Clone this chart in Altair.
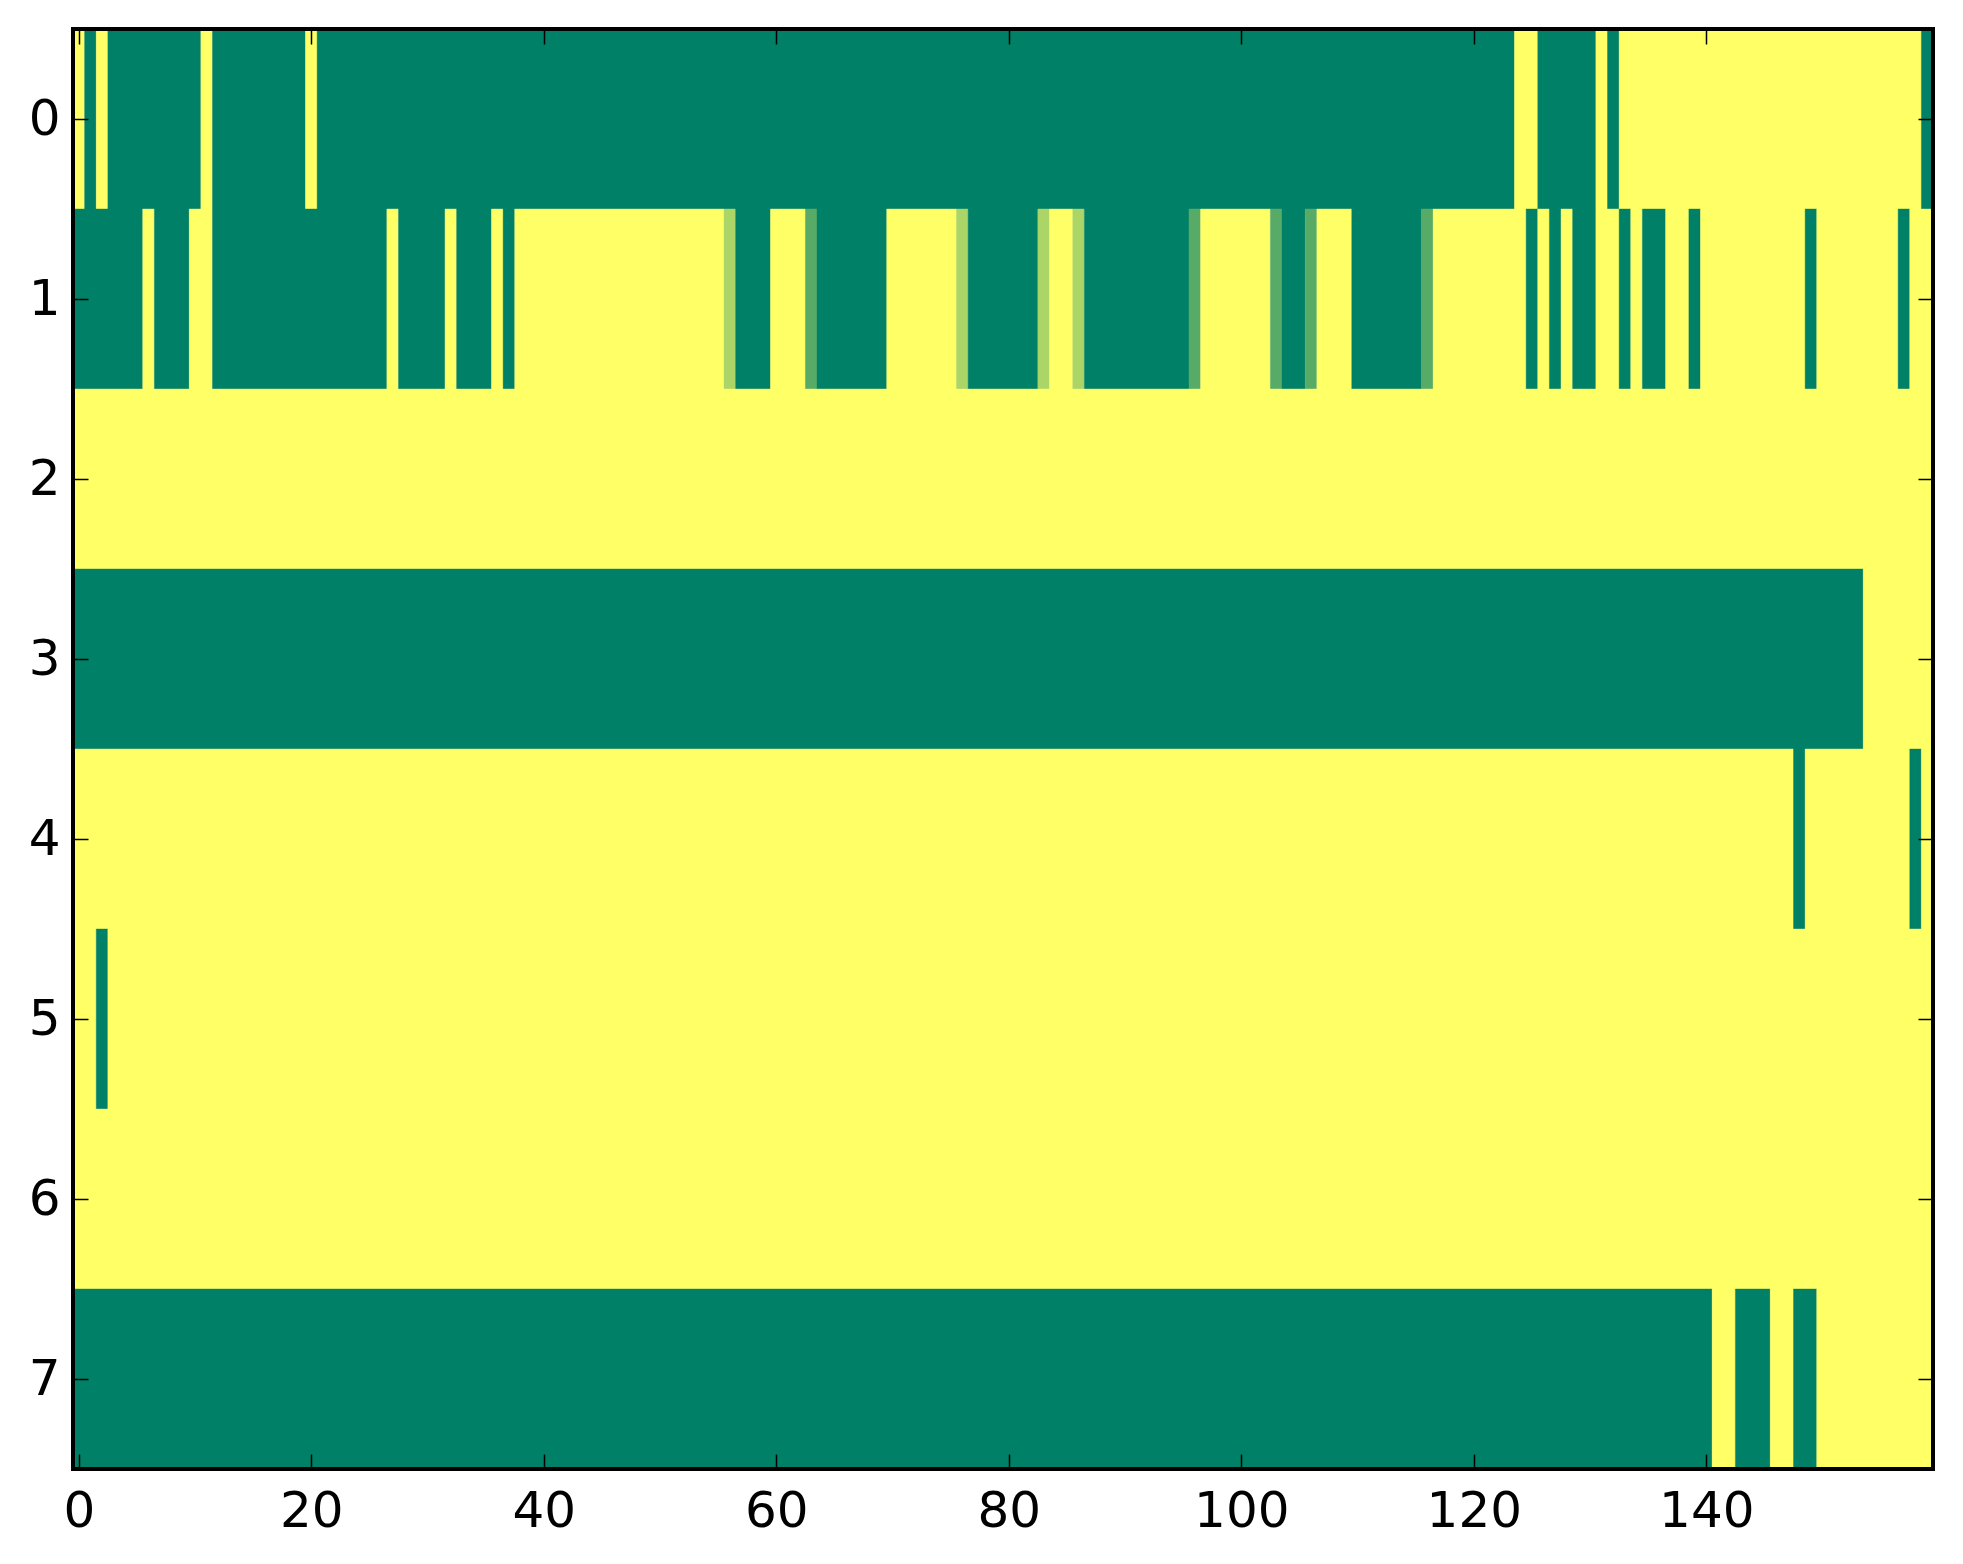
import pandas as pd
import altair as alt

# each row of the image as runs of (value, number of columns); 0 = green, 1 = yellow
G, M, L, Y = 0.0, 0.34, 0.67, 1.0

row0 = [(Y, 1), (G, 1), (Y, 1), (G, 8), (Y, 1), (G, 8), (Y, 1), (G, 103), (Y, 2),
        (G, 5), (Y, 1), (G, 1), (Y, 26), (G, 1)]
row1 = [(G, 6), (Y, 1), (G, 3), (Y, 2), (G, 15), (Y, 1), (G, 4), (Y, 1), (G, 3), (Y, 1),
        (G, 1), (Y, 18), (L, 1), (G, 3), (Y, 3), (M, 1), (G, 6), (Y, 6), (L, 1), (G, 6),
        (L, 1), (Y, 2), (L, 1), (G, 9), (M, 1), (Y, 6), (M, 1), (G, 2), (M, 1), (Y, 3),
        (G, 6), (M, 1), (Y, 8), (G, 1), (Y, 1), (G, 1), (Y, 1), (G, 2), (Y, 2), (G, 1),
        (Y, 1), (G, 2), (Y, 2), (G, 1), (Y, 9), (G, 1), (Y, 7), (G, 1), (Y, 2)]
row2 = [(Y, 160)]
row3 = [(G, 154), (Y, 6)]
row4 = [(Y, 148), (G, 1), (Y, 9), (G, 1), (Y, 1)]
row5 = [(Y, 2), (G, 1), (Y, 157)]
row6 = [(Y, 160)]
row7 = [(G, 141), (Y, 2), (G, 3), (Y, 2), (G, 2), (Y, 10)]

rows = [row0, row1, row2, row3, row4, row5, row6, row7]
x_ticks = [0, 20, 40, 60, 80, 100, 120, 140]
y_ticks = [0, 1, 2, 3, 4, 5, 6, 7]

# one rect per run of equal cells (avoids hairline seams between cells)
records = []
for r, runs in enumerate(rows):
    start = 0
    for v, n in runs:
        records.append({"row": r, "v": v,
                        "x0": start - 0.5, "x1": start + n - 0.5,
                        "y0": r - 0.5, "y1": r + 0.5})
        start += n
df = pd.DataFrame(records)

W, H = 1860, 1440

xscale = alt.Scale(domain=[-0.5, 159.5], nice=False, zero=False)
yscale = alt.Scale(domain=[-0.5, 7.5], nice=False, zero=False, reverse=True)
cscale = alt.Scale(domain=[0, 1], range=["#008066", "#ffff66"], interpolate="rgb")

# matplotlib-style inward ticks: pull the axis inside by the tick length
TICK = 15
common = dict(offset=-TICK, tickSize=TICK, tickWidth=1.5, tickColor="black",
              domain=False, grid=False, title=None, zindex=1,
              labelFont="DejaVu Sans", labelFontSize=50, labelColor="black",
              labelFlush=False, labelOverlap=False)

heat = alt.Chart(df).mark_rect(strokeWidth=0.4).encode(
    x=alt.X("x0:Q", scale=xscale,
            axis=alt.Axis(orient="bottom", values=x_ticks, labelPadding=17, **common)),
    x2="x1:Q",
    y=alt.Y("y0:Q", scale=yscale,
            axis=alt.Axis(orient="left", values=y_ticks, labelPadding=13, **common)),
    y2="y1:Q",
    color=alt.Color("v:Q", scale=cscale, legend=None),
    stroke=alt.Stroke("v:Q", scale=cscale, legend=None),
)

frame_axes = alt.Chart(df).mark_rect(opacity=0).encode(
    x=alt.X("x0:Q", scale=xscale,
            axis=alt.Axis(orient="top", values=x_ticks, labels=False, **common)),
    x2="x1:Q",
    y=alt.Y("y0:Q", scale=yscale,
            axis=alt.Axis(orient="right", values=y_ticks, labels=False, **common)),
    y2="y1:Q",
)

# black frame around the image
frame = alt.Chart(df).mark_rect(filled=False, stroke="black", strokeWidth=4).encode(
    x=alt.value(0), x2=alt.value(W), y=alt.value(0), y2=alt.value(H)
)

chart = alt.layer(heat, frame_axes, frame).resolve_axis(
    x="independent", y="independent"
).properties(
    width=W,
    height=H,
    autosize=alt.AutoSizeParams(type="none"),
    padding={"left": 65, "top": 21, "right": 10, "bottom": 80},
    background="white",
).configure_view(strokeWidth=0)

chart.save("out.html", embed_options={"renderer": "svg", "actions": False})
